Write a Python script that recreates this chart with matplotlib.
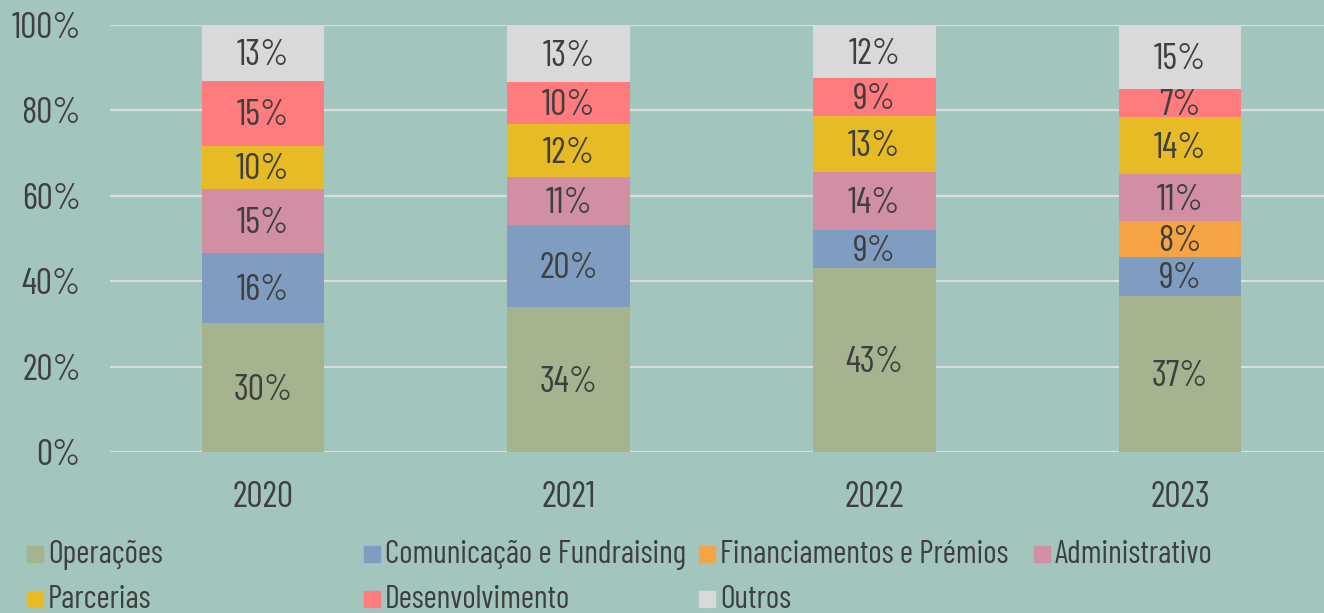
import matplotlib
matplotlib.use('Agg')
import matplotlib.pyplot as plt
from matplotlib.patches import Rectangle
import numpy as np

years = ['2020', '2021', '2022', '2023']
categories = ['Operações', 'Comunicação e Fundraising', 'Financiamentos e Prémios',
              'Administrativo', 'Parcerias', 'Desenvolvimento', 'Outros']

# share of each category per year (%)
operacoes = [30.2, 33.9, 43.2, 36.6]
comunicacao = [16.4, 19.3, 8.8, 9.1]
financiamentos = [0.0, 0.0, 0.0, 8.4]
administrativo = [15.0, 11.2, 13.6, 10.9]
parcerias = [10.1, 12.3, 13.2, 13.5]
desenvolvimento = [15.2, 9.9, 8.7, 6.6]
outros = [13.1, 13.4, 12.5, 14.9]

# labels as printed on the chart
lab_operacoes = [30, 34, 43, 37]
lab_comunicacao = [16, 20, 9, 9]
lab_financiamentos = [None, None, None, 8]
lab_administrativo = [15, 11, 14, 11]
lab_parcerias = [10, 12, 13, 14]
lab_desenvolvimento = [15, 10, 9, 7]
lab_outros = [13, 13, 12, 15]

colors = ['#a3b48f', '#7f9dc1', '#f4a444', '#d08fa3', '#e6bb25', '#ff7b7d', '#d9d9d9']
bg = '#a2c5bd'
txt = '#3f3f3f'
font = ['Barlow Condensed', 'Saira Condensed', 'Saira ExtraCondensed', 'DejaVu Sans']

series = [operacoes, comunicacao, financiamentos, administrativo, parcerias, desenvolvimento, outros]
labels = [lab_operacoes, lab_comunicacao, lab_financiamentos, lab_administrativo,
          lab_parcerias, lab_desenvolvimento, lab_outros]

fig = plt.figure(figsize=(13.24, 6.13), dpi=100, facecolor=bg)
ax = fig.add_axes([110 / 1324, 161 / 613, 1223 / 1324, 427 / 613])
ax.set_facecolor(bg)

x = np.arange(len(years))
bottom = np.zeros(len(years))
for vals, labs, c in zip(series, labels, colors):
    vals = np.array(vals)
    ax.bar(x, vals, 0.4, bottom=bottom, color=c, zorder=3)
    for i in range(len(years)):
        if labs[i] is not None and vals[i] > 0:
            ax.text(x[i], bottom[i] + vals[i] / 2 - 0.6, '{0}%'.format(labs[i]), ha='center', va='center',
                    fontsize=26, color=txt, family=font, zorder=4)
    bottom += vals

ax.set_xlim(-0.5, 3.5)
ax.set_ylim(0, 100)
ax.set_yticks([0, 20, 40, 60, 80, 100])
ax.set_yticklabels(['{0}%'.format(v) for v in [0, 20, 40, 60, 80, 100]])
ax.set_xticks(x)
ax.set_xticklabels(years)
ax.grid(axis='y', color='#dcdcdc', linewidth=1.6, zorder=0)
ax.tick_params(length=0, labelsize=26, labelcolor=txt)
ax.tick_params(axis='y', pad=21)
ax.tick_params(axis='x', pad=21)
for t in ax.get_xticklabels() + ax.get_yticklabels():
    t.set_family(font)
for s in ax.spines.values():
    s.set_visible(False)

# legend in two rows, fixed column spacing
leg_cols = [27, 364, 699, 1034]
leg_rows = [555, 600]
for k, (name, c) in enumerate(zip(categories, colors)):
    if k < 4:
        cx, cy = leg_cols[k], leg_rows[0]
    else:
        order = {4: 0, 5: 1, 6: 2}
        cx, cy = leg_cols[order[k]], leg_rows[1]
    fig.patches.append(Rectangle((cx / 1324, 1 - (cy + 7) / 613), 16 / 1324, 16 / 613,
                                 transform=fig.transFigure, color=c, figure=fig))
    fig.text((cx + 21) / 1324, 1 - cy / 613, name, ha='left', va='center', fontsize=23,
             color=txt, family=font)

fig.savefig('out.png', dpi=100, facecolor=bg)
